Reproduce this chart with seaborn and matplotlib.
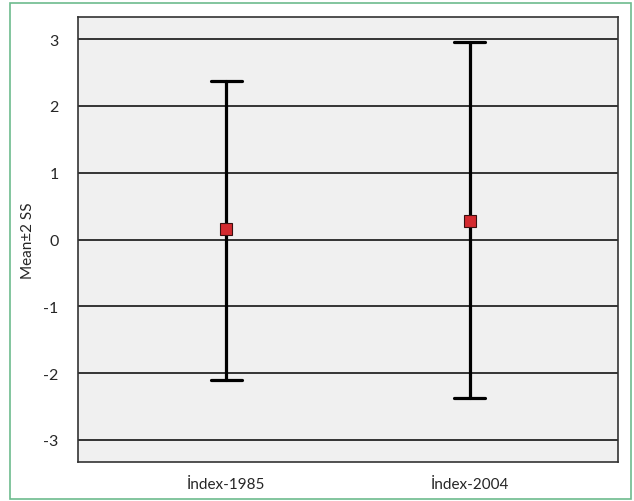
import pandas as pd
import matplotlib.pyplot as plt
import seaborn as sns
from matplotlib.patches import Rectangle

# values: mean and mean +/- 2 SD
groups = ["İndex-1985", "İndex-2004"]
means = [0.15, 0.28]
lower = [-2.10, -2.37]
upper = [2.37, 2.95]

rows = []
for g, lo, m, hi in zip(groups, lower, means, upper):
    for v in (lo, m, hi):
        rows.append({"group": g, "value": v})
df = pd.DataFrame(rows)

sns.set_style("white")
plt.rcParams["font.family"] = ["Lato", "DejaVu Sans"]

fig = plt.figure(figsize=(6.34, 5.02), dpi=100)
ax = fig.add_axes([78 / 634, 1 - 463 / 502, 540 / 634, 445 / 502])
ax.set_facecolor("#f0f0f0")

sns.pointplot(data=df, x="group", y="value", estimator="median",
              errorbar=lambda v: (v.min(), v.max()),
              linestyle="none", markers="s", color="#d42a2f",
              markersize=8, markeredgecolor="#3a1010", markeredgewidth=0.8,
              capsize=0.13, err_kws={"color": "black", "linewidth": 2.3},
              ax=ax)

for ln in ax.lines:
    if ln.get_marker() == "s":
        ln.set_zorder(5)

ax.set_ylim(-3.33, 3.33)
ax.set_xlim(-0.61, 1.61)
ax.set_yticks([-3, -2, -1, 0, 1, 2, 3])
ax.set_yticklabels(["-3", "-2", "-1", "0", "1", "2", "3"])
ax.yaxis.grid(True, color="black", linewidth=1.1)
ax.set_axisbelow(True)

ax.set_xlabel("")
ax.set_ylabel("Mean±2 SS", fontsize=11, labelpad=6)
ax.tick_params(axis="y", length=11, width=1, color="#222222", labelsize=11.5, pad=3)
ax.tick_params(axis="x", length=7, width=1, color="#222222", labelsize=11, pad=4)
for s in ax.spines.values():
    s.set_color("#333333")
    s.set_linewidth(1.2)

fig.patches.append(Rectangle((10 / 634, 2 / 502), 621 / 634, 496 / 502,
                             transform=fig.transFigure, fill=False,
                             edgecolor="#6dbb8d", linewidth=1.2))

plt.savefig("out.png", dpi=100)
